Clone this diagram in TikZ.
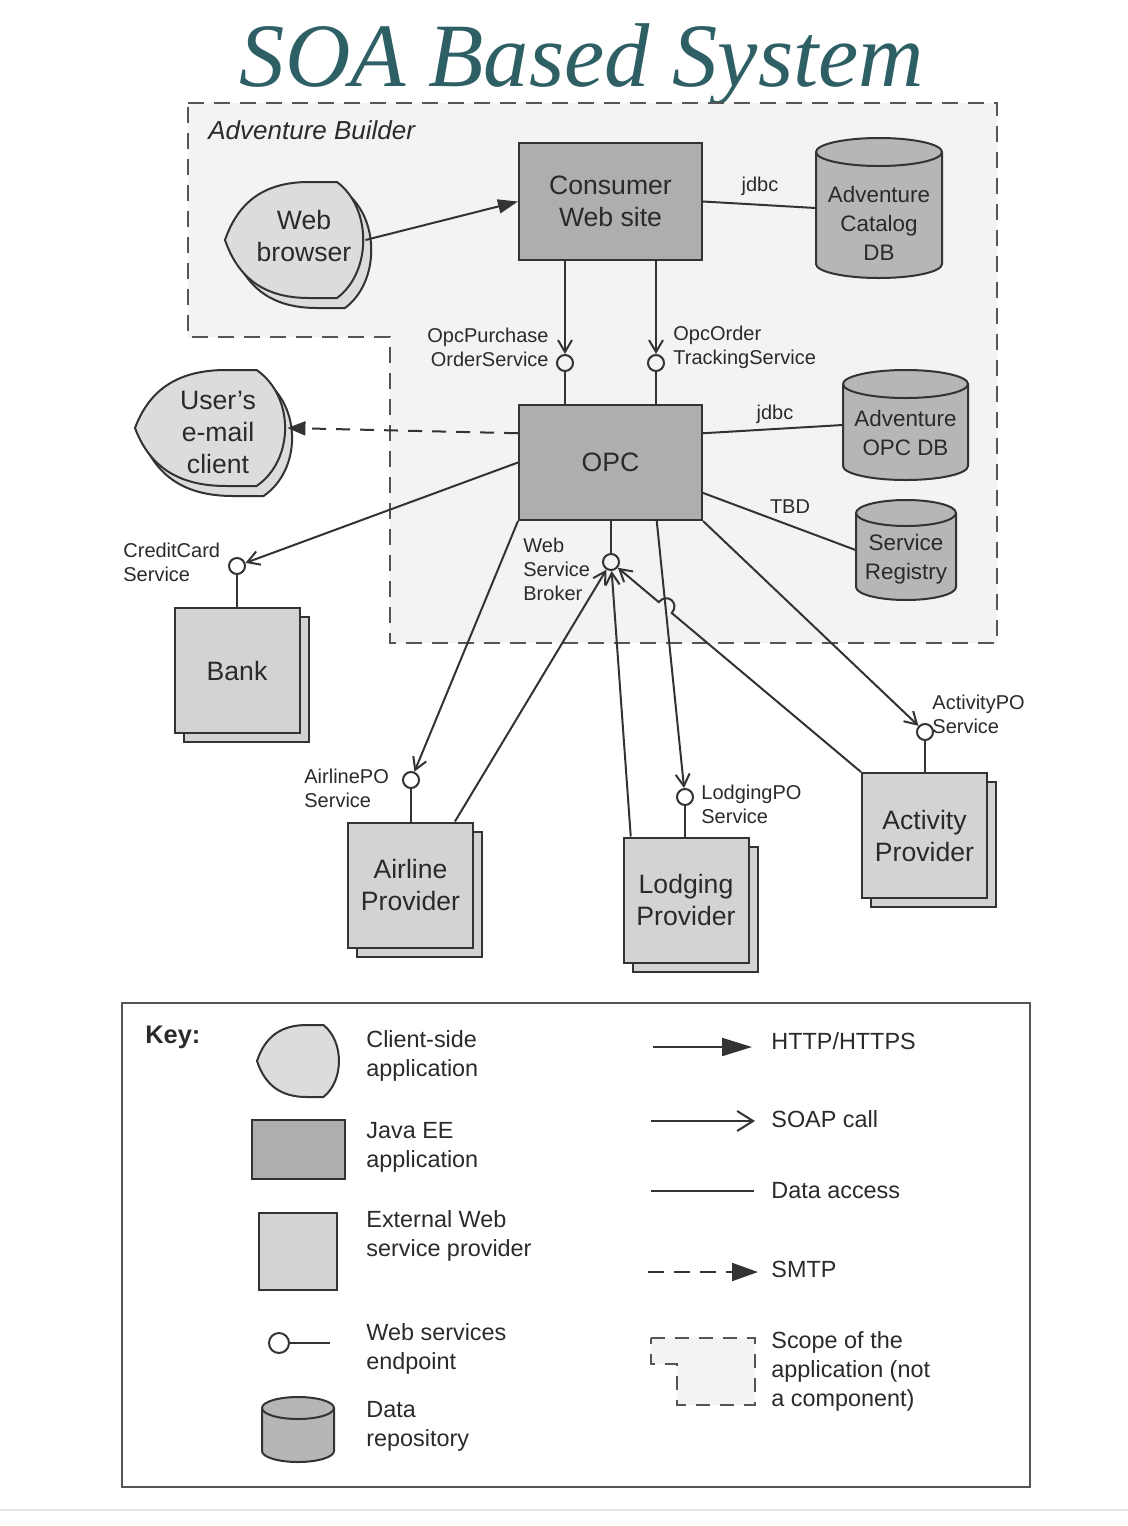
\documentclass[tikz,border=0pt]{standalone}
\usepackage{fontspec}
\setmainfont{Liberation Sans}
\newfontfamily\titlefont{Liberation Serif}
\usetikzlibrary{arrows.meta,calc,shadows}
\definecolor{lc}{HTML}{333333}
\definecolor{tc}{HTML}{2A2A2A}
\definecolor{jfill}{HTML}{AEAEB1}
\definecolor{pfill}{HTML}{D3D3D5}
\definecolor{cfill}{HTML}{DCDCDC}
\definecolor{dfill}{HTML}{B6B6B6}
\definecolor{rfill}{HTML}{F3F3F3}
\definecolor{rline}{HTML}{555555}
\definecolor{titlec}{HTML}{2D5F65}
\newcommand\fntbox{\fontsize{13.3}{16}\selectfont}
\newcommand\fntdb{\fontsize{11.2}{14.5}\selectfont}
\newcommand\fntlbl{\fontsize{10}{12}\selectfont}
\newcommand\fntkey{\fontsize{11.7}{14.5}\selectfont}
\newcommand\fntab{\fontsize{13}{15}\selectfont}
\newcommand\drawdbcyl[5]{%
  \pgfmathsetmacro\cylrx{(#3-#1)/4}%
  \pgfmathsetmacro\cylry{#5/2}%
  \filldraw[cylstyle] (#1,#2+#5) -- (#1,#4-#5) arc[start angle=180,end angle=360,x radius=\cylrx pt,y radius=\cylry pt] -- (#3,#2+#5) arc[start angle=0,end angle=180,x radius=\cylrx pt,y radius=\cylry pt] -- cycle;
  \draw[cylstyle,fill=none] (#1,#2+#5) arc[start angle=180,end angle=360,x radius=\cylrx pt,y radius=\cylry pt];
}
\tikzset{
  lnk/.style={draw=lc, line width=1pt},
  http/.style={lnk, -{Triangle[length=10pt,width=7pt]}},
  soap/.style={lnk, -{Straight Barb[length=6pt,width=7pt]}},
  smtp/.style={lnk, dash pattern=on 7pt off 5pt, -{Triangle[length=9pt,width=7pt]}},
  javaee/.style={rectangle, draw=lc, line width=1pt, fill=jfill, inner sep=0, font=\fntbox, text=tc, align=center},
  provider/.style={rectangle, draw=lc, line width=1pt, fill=pfill, inner sep=0, minimum width=62.5pt, minimum height=62.5pt, copy shadow={shadow xshift=4.5pt, shadow yshift=-4.5pt}, font=\fntbox, text=tc, align=center},
  ep/.style={circle, draw=lc, line width=1pt, minimum size=8pt, inner sep=0},
  cylstyle/.style={draw=lc, line width=1pt, fill=dfill},
  holder/.style={rectangle, draw=none, inner sep=0},
  boxtxt/.style={font=\fntbox, text=tc, align=center, inner sep=0},
  dbtxt/.style={font=\fntdb, text=tc, align=center, inner sep=0},
  lbl/.style={font=\fntlbl, text=tc, align=left, inner sep=0},
  keytxt/.style={font=\fntkey, text=tc, align=left, inner sep=0, anchor=west},
  clientshape/.style={draw=lc, line width=1pt, fill=cfill},
  client/.pic={\path[pic actions] (-1,0) .. controls (-0.8,-0.7) and (-0.4,-1) .. (0.2,-1) -- (0.6,-1) .. controls (1.1,-0.55) and (1.1,0.55) .. (0.6,1) -- (0.2,1) .. controls (-0.4,1) and (-0.8,0.7) .. (-1,0) -- cycle;},
}
\begin{document}
\begin{tikzpicture}[x=0.5pt,y=-0.5pt]
\useasboundingbox (0,0) rectangle (1128,1526);
\fill[white] (0,0) rectangle (1128,1526);
\draw[black!10, line width=1pt] (0,1510) -- (1128,1510);

% title
\node[font=\titlefont\itshape, text=titlec, anchor=base, inner sep=0] (title) at (582,86) {\resizebox{342pt}{!}{SOA Based System}};

% application scope
\filldraw[fill=rfill, draw=rline, line width=1pt, dash pattern=on 8pt off 5pt] (188,103) -- (997,103) -- (997,643) -- (390,643) -- (390,337) -- (188,337) -- cycle;
\node[font=\fntab\itshape, text=tc, anchor=base west, inner sep=0] (ab) at (208,139) {Adventure Builder};

% Java EE applications
\node[javaee, minimum width=91.5pt, minimum height=58.5pt] (cws) at (610.5,201.5) {Consumer\\Web site};
\node[javaee, minimum width=91.5pt, minimum height=57.5pt] (opc) at (610.5,462.5) {OPC};

% data repositories
\drawdbcyl{816}{138}{942}{278}{14}
\node[holder, minimum width=63pt, minimum height=70pt] (catdb) at (879,208) {};
\node[dbtxt] (catdbt) at (879,223) {Adventure\\Catalog\\DB};
\drawdbcyl{843}{370}{968}{480}{14}
\node[holder, minimum width=62.5pt, minimum height=55pt] (opcdb) at (905.5,425) {};
\node[dbtxt] (opcdbt) at (905.5,433) {Adventure\\OPC DB};
\drawdbcyl{856}{500}{956}{600}{13}
\node[holder, minimum width=50pt, minimum height=50pt] (reg) at (906,550) {};
\node[dbtxt] (regt) at (906,559) {Service\\Registry};

% client-side applications
\pic[clientshape, xscale=70, yscale=58] at (303,250) {client};
\pic[clientshape, xscale=70, yscale=58] at (295,240) {client};
\node[holder, minimum width=70pt, minimum height=58pt] (wb) at (295,240) {};
\node[boxtxt] (wbt) at (304,236) {Web\\browser};
\pic[clientshape, xscale=76, yscale=58] at (218,438) {client};
\pic[clientshape, xscale=76, yscale=58] at (211,428) {client};
\node[holder, minimum width=76pt, minimum height=58pt] (mail) at (211,428) {};
\node[boxtxt] (mailt) at (218,432) {User’s\\e-mail\\client};

% external providers
\node[provider] (bank) at (237,670.5) {Bank};
\node[provider] (air) at (410.5,885) {Airline\\Provider};
\node[provider] (lodg) at (686,900) {Lodging\\Provider};
\node[provider] (act) at (924.5,835.5) {Activity\\Provider};

% endpoints
\node[ep] (ep1) at (565,363) {};
\node[ep] (ep2) at (656,363) {};
\node[ep] (epb) at (611,562) {};
\node[ep] (epcc) at (237,566) {};
\node[ep] (epair) at (411,780) {};
\node[ep] (eplod) at (685,797) {};
\node[ep] (epact) at (925,732) {};

% labels
\node[lbl, anchor=east, align=right] (l1) at (549,347) {OpcPurchase\\OrderService};
\node[lbl, anchor=west] (l2) at (673,347) {OpcOrder\\TrackingService};
\node[lbl, anchor=west] (l3) at (523,569) {Web\\Service\\Broker};
\node[lbl, anchor=west] (l4) at (123,562) {CreditCard\\Service};
\node[lbl, anchor=west] (l5) at (304,788) {AirlinePO\\Service};
\node[lbl, anchor=west] (l6) at (701,804) {LodgingPO\\Service};
\node[lbl, anchor=west] (l7) at (932,714) {ActivityPO\\Service};
\node[lbl] (j1) at (760,186) {jdbc};
\node[lbl] (j2) at (775,414) {jdbc};
\node[lbl] (tbd) at (790,507) {TBD};

% connectors
\draw[http] (wb.east) -- (cws.west);
\draw[lnk] (cws.east) -- (catdb.west);
\draw[soap] (ep1 |- cws.south) -- (ep1);
\draw[lnk] (ep1) -- (ep1 |- opc.north);
\draw[soap] (ep2 |- cws.south) -- (ep2);
\draw[lnk] (ep2) -- (ep2 |- opc.north);
\draw[lnk] ($(opc.north east)!0.25!(opc.south east)$) -- (opcdb.west);
\draw[lnk] ($(opc.north east)!0.76!(opc.south east)$) -- (reg.west);
\draw[smtp] ($(opc.north west)!0.25!(opc.south west)$) -- (mail.east);
\draw[soap] (opc.west) -- (epcc);
\draw[lnk] (epcc) -- (bank.north);
\draw[soap] (opc.south west) -- (epair);
\draw[lnk] (epair) -- (epair |- air.north);
\draw[soap] ($(opc.south west)!0.75!(opc.south east)$) -- (eplod);
\draw[lnk] (eplod) -- (eplod |- lodg.north);
\draw[soap] (opc.south east) -- (epact);
\draw[lnk] (epact) -- (epact |- act.north);
\draw[lnk] (epb) -- (epb |- opc.south);
\draw[soap] ($(air.north west)!0.85!(air.north east)$) -- (epb);
\draw[soap] ($(lodg.north west)!0.065!(lodg.north east)$) -- (epb);
\coordinate (h1) at ($(act.north west)!0.757!(epb.center)$);
\coordinate (h2) at ($(act.north west)!0.809!(epb.center)$);
\draw[soap] (act.north west) -- (h1) .. controls ($(h1)!6.5pt!-90:(epb.center)$) and ($(h2)!6.5pt!90:(act.north west)$) .. (h2) -- (epb);

% key
\draw[draw=rline, line width=1pt, fill=white] (122,1003) rectangle (1030,1487);
\node[font=\fontsize{12.7}{15}\selectfont\bfseries, text=tc, anchor=west, inner sep=0] (key) at (145,1037) {Key:};
\pic[clientshape, xscale=41.5, yscale=36] at (298.5,1061) {client};
\filldraw[draw=lc, line width=1pt, fill=jfill] (252,1120) rectangle (345,1179);
\filldraw[draw=lc, line width=1pt, fill=pfill] (259,1213) rectangle (337,1290);
\node[ep, minimum size=10pt] (kep) at (279,1343) {};
\coordinate (kepe) at (330,1343);
\draw[lnk] (kep) -- (kepe);
\drawdbcyl{262}{1397}{334}{1462}{11}
\node[keytxt] (k1) at (366,1055.5) {Client-side\\application};
\node[keytxt] (k2) at (366,1147) {Java EE\\application};
\node[keytxt] (k3) at (366,1236) {External Web\\service provider};
\node[keytxt] (k4) at (366,1348.5) {Web services\\endpoint};
\node[keytxt] (k5) at (366,1426) {Data\\repository};

\coordinate (ka1) at (653,1047); \coordinate (ka2) at (752,1047);
\draw[lnk, -{Triangle[length=15pt,width=9pt]}] (ka1) -- (ka2);
\coordinate (kb1) at (651,1121); \coordinate (kb2) at (755,1121);
\draw[lnk, -{Straight Barb[length=8pt,width=10pt]}] (kb1) -- (kb2);
\coordinate (kc1) at (651,1191); \coordinate (kc2) at (754,1191);
\draw[lnk] (kc1) -- (kc2);
\coordinate (kd1) at (648,1272); \coordinate (kd2) at (758,1272);
\draw[lnk, dash pattern=on 8pt off 5pt, -{Triangle[length=13pt,width=9pt]}] (kd1) -- (kd2);
\filldraw[fill=rfill, draw=rline, line width=1pt, dash pattern=on 7pt off 5pt] (651,1338) -- (755,1338) -- (755,1405) -- (677,1405) -- (677,1364) -- (651,1364) -- cycle;
\node[keytxt] (k6) at (771,1041) {HTTP/HTTPS};
\node[keytxt] (k7) at (771,1119) {SOAP call};
\node[keytxt] (k8) at (771,1191) {Data access};
\node[keytxt] (k9) at (771,1269) {SMTP};
\node[keytxt] (k10) at (771,1371) {Scope of the\\application (not\\a component)};
\end{tikzpicture}
\end{document}
